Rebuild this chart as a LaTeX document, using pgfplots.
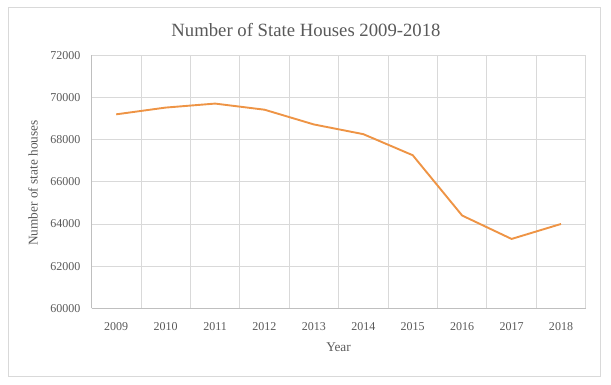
\documentclass[border=0pt]{standalone}
\usepackage{fontspec}
\setmainfont{Liberation Serif}
\usepackage{pgfplots}
\pgfplotsset{compat=1.18}
\definecolor{txtgray}{HTML}{595959}
\definecolor{gridgray}{HTML}{D9D9D9}
\definecolor{axgray}{HTML}{BFBFBF}
\definecolor{lineorange}{HTML}{EE9445}
\begin{document}
\begin{tikzpicture}[x=1bp,y=1bp]
\useasboundingbox (0,0) rectangle (611,384);
\draw[gridgray, line width=0.8bp] (8,8) rectangle (600,377);
\begin{axis}[
  at={(91.5bp,75.7bp)}, anchor=south west,
  scale only axis,
  width=494.2bp, height=253bp,
  xmin=-0.5, xmax=9.5,
  ymin=60000, ymax=72000,
  xtick={0,...,9},
  xticklabels={2009,2010,2011,2012,2013,2014,2015,2016,2017,2018},
  minor xtick={-0.5,0.5,...,9.5},
  ytick={60000,62000,...,72000},
  xmajorgrids=false, xminorgrids=true, ymajorgrids=true,
  grid style={gridgray, line width=0.8bp},
  minor grid style={gridgray, line width=0.8bp},
  major tick length=0pt, minor tick length=0pt,
  axis line style={axgray, line width=0.8bp},
  axis x line*=bottom, axis y line*=left,
  /pgf/number format/assume math mode=true,
  scaled y ticks=false,
  yticklabel={\pgfmathprintnumber[fixed,1000 sep={}]{\tick}},
  tick label style={font=\fontsize{12bp}{14bp}\selectfont, text=txtgray, inner sep=0pt},
  yticklabel style={anchor=east, xshift=-11bp},
  xticklabel style={anchor=center, yshift=-18.4bp},
  clip=false,
]
\addplot[lineorange, line width=1.9bp, mark=none] coordinates {
  (0,69200) (1,69520) (2,69710) (3,69420) (4,68720)
  (5,68260) (6,67260) (7,64400) (8,63290) (9,64000)
};
\end{axis}
\node[text=txtgray, font=\fontsize{18.7bp}{22bp}\selectfont] at (306,354) {Number of State Houses 2009-2018};
\node[text=txtgray, font=\fontsize{13.3bp}{16bp}\selectfont] at (338.5,37) {Year};
\node[text=txtgray, font=\fontsize{13.3bp}{16bp}\selectfont, rotate=90] at (33,201) {Number of state houses};
\end{tikzpicture}
\end{document}
